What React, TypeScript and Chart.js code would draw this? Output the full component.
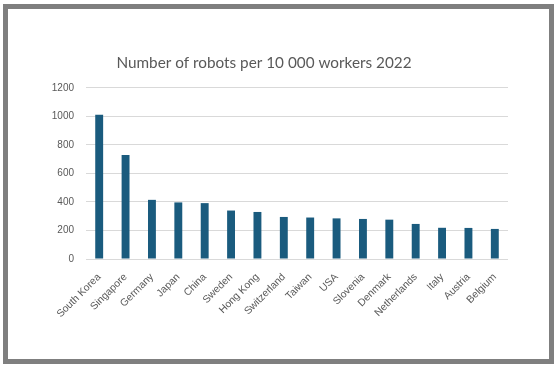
import { useEffect, useRef } from "react";
import { Chart, registerables } from "chart.js";

Chart.register(...registerables);

const titleText = "Number of robots per 10 000 workers 2022";
const countries = [
  "South Korea",
  "Singapore",
  "Germany",
  "Japan",
  "China",
  "Sweden",
  "Hong Kong",
  "Switzerland",
  "Taiwan",
  "USA",
  "Slovenia",
  "Denmark",
  "Netherlands",
  "Italy",
  "Austria",
  "Belgium",
];
const robotsPer10k = [1012, 730, 415, 397, 392, 340, 330, 295, 291, 285, 281, 276, 246, 219, 218, 211];
const yTicks = [0, 200, 400, 600, 800, 1000, 1200];

export default function App() {
  const ref = useRef<HTMLCanvasElement>(null);

  useEffect(() => {
    const textColor = "#595959";
    const tickFont = { family: "'Liberation Sans', Arial, sans-serif", size: 10 };
    const chart = new Chart(ref.current!, {
      type: "bar",
      data: {
        labels: countries,
        datasets: [
          {
            data: robotsPer10k,
            backgroundColor: "#1a5b7e",
            barPercentage: 0.3,
            categoryPercentage: 1,
          },
        ],
      },
      options: {
        responsive: false,
        animation: false,
        layout: { padding: { left: 20, right: 50, top: 0, bottom: 0 } },
        plugins: {
          legend: { display: false },
          tooltip: { enabled: false },
          title: {
            display: true,
            text: titleText,
            color: textColor,
            font: { family: "Lato, sans-serif", size: 15.3, weight: "normal" },
            padding: { top: 53.8, bottom: 15.8 },
          },
        },
        scales: {
          x: {
            grid: { display: false },
            border: { display: false },
            ticks: {
              color: textColor,
              font: { ...tickFont, size: 10.3 },
              maxRotation: 45,
              minRotation: 45,
              autoSkip: false,
              padding: 4,
            },
            afterFit: (s: any) => {
              s.height = 109;
            },
          },
          y: {
            min: 0,
            max: 1200,
            afterBuildTicks: (s: any) => {
              s.ticks = yTicks.map((v) => ({ value: v }));
            },
            ticks: {
              color: textColor,
              font: tickFont,
              padding: 12,
              callback: (v: any) => String(v),
            },
            grid: { color: "#d9d9d9", drawTicks: false },
            border: { display: false },
            afterFit: (s: any) => {
              s.width = 66;
            },
          },
        },
      },
    });
    return () => chart.destroy();
  }, []);

  return (
    <div style={{ position: "fixed", left: 0, top: 0, width: 558, height: 368, background: "#ffffff" }}>
      <div
        style={{
          position: "absolute",
          left: 3,
          top: 4,
          width: 551,
          height: 360,
          border: "5px solid #7f7f7f",
          boxSizing: "border-box",
        }}
      />
      <canvas ref={ref} width={558} height={368} style={{ position: "absolute", left: 0, top: 0 }} />
    </div>
  );
}
